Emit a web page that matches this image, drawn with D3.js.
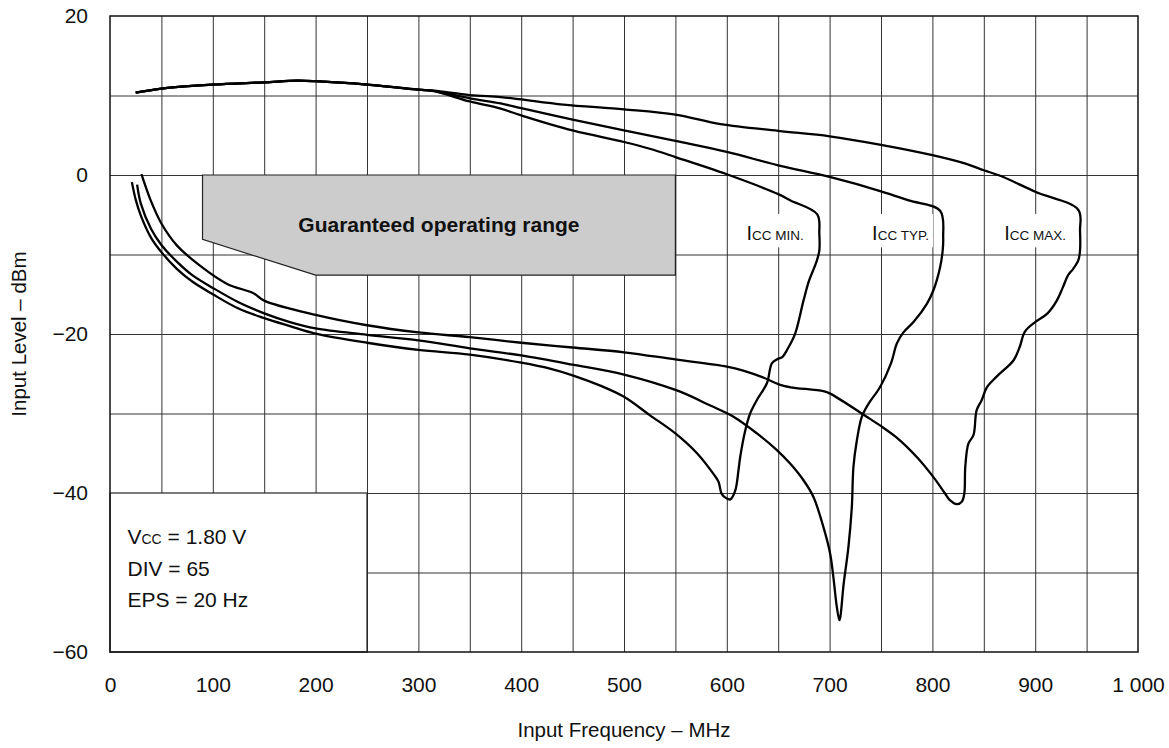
<!DOCTYPE html>
<html>
<head>
<meta charset="utf-8">
<script src="https://cdn.jsdelivr.net/npm/d3@7"></script>
<style>
body { margin: 0; background: #fff; }
svg { font-family: "Liberation Sans", Arial, Helvetica, sans-serif; }
</style>
</head>
<body>
<svg id="chart" width="1169" height="748"></svg>
<script>
// values: [frequency MHz, level dBm]
var freqTicks = [0, 100, 200, 300, 400, 500, 600, 700, 800, 900, 1000];
var levelTicks = [-60, -40, -20, 0, 20];
var freqGrid = [50, 100, 150, 200, 250, 300, 350, 400, 450, 500, 550, 600, 650, 700, 750, 800, 850, 900, 950];
var levelGrid = [-50, -40, -30, -20, -10, 0, 10];

var iccMin = [[25,10.35],[50,10.87],[100,11.37],[150,11.66],[182,11.87],[200,11.8],[250,11.37],[300,10.74],[315,10.55],
  [350,9.25],[380,8.35],[400,7.5],[450,5.6],[500,4.15],[525,3.3],[550,2.26],[600,0.09],[650,-2.4],[662,-3.2],[688,-4.95],
  [690,-7.4],[690,-9.5],[687,-11],[680,-13.3],[674.6,-15.8],[666.5,-19.95],[658.4,-22.05],[654,-22.9],[648.7,-23.2],
  [643.8,-23.7],[639,-26.2],[629.3,-28.3],[622.7,-30],[618,-32.1],[613,-35.5],[611.4,-37.1],[608.2,-39.7],[603.4,-40.8],
  [600,-40.7],[595,-40.1],[592,-38.6],[587,-37.6],[571,-35],[550,-32.5],[525,-30.2],[500,-27.9],[477,-26.5],[450,-25.2],
  [428,-24.35],[400,-23.6],[350,-22.6],[300,-22],[250,-21.1],[200,-19.95],[175,-19],[150,-18],[125,-16.8],[100,-15],
  [80,-13.4],[65,-11.8],[50,-9.7],[40,-7.9],[30,-5.1],[25,-3.1],[21.3,-0.9]];

var iccTyp = [[25,10.35],[50,10.87],[100,11.37],[150,11.66],[182,11.87],[200,11.8],[250,11.37],[300,10.74],[315,10.58],
  [350,9.65],[380,9.0],[400,8.4],[450,6.96],[500,5.62],[550,4.28],[600,2.9],[650,1.22],[700,-0.25],[750,-2.05],[777,-3.2],
  [807.5,-4.5],[810.5,-7.8],[810,-9.5],[807.5,-11.6],[801,-14.5],[794.6,-16.2],[781.6,-18.5],[771.8,-19.8],[765.4,-21.2],
  [759.7,-23.7],[749,-26.7],[738,-28.75],[731.4,-30.4],[726.5,-33.4],[723.2,-36.7],[721.6,-41.8],[718.3,-46.8],
  [713.7,-51.4],[709.6,-56],[707,-54.3],[703.7,-50.6],[700.5,-47.6],[694,-44.3],[684.3,-40.5],[674.6,-38.4],[661.6,-36.3],
  [648.7,-34.6],[629.3,-32.5],[606.5,-30.4],[584,-29],[551.5,-27.1],[500,-25.1],[450,-23.85],[400,-22.7],[350,-21.8],
  [300,-20.8],[250,-20.1],[200,-19.3],[175,-18.5],[150,-17.4],[125,-16],[100,-14.2],[80,-12.6],[65,-10.9],[50,-8.8],
  [40,-6.8],[30,-3.6],[26.4,-1.2]];

var iccMax = [[25,10.35],[50,10.87],[100,11.37],[150,11.66],[182,11.87],[200,11.8],[250,11.37],[300,10.74],[315,10.62],
  [350,10.05],[380,9.8],[400,9.5],[441,8.85],[500,8.26],[550,7.6],[594,6.4],[650,5.55],[700,4.87],[750,3.8],[800,2.5],
  [833,1.4],[850,0.6],[866,-0.1],[900,-2.1],[942,-4.4],[943.6,-7],[943.6,-9.5],[942,-10.7],[937,-11.8],[932,-12.6],
  [927,-14.1],[921,-15.8],[912,-17.4],[900,-18.5],[890,-19.7],[885,-21.6],[879,-23.3],[863,-25.3],[853,-26.7],[848,-28.3],
  [843,-29.6],[840,-32.7],[835,-33.8],[832,-36.7],[831,-40.1],[828.6,-41.1],[823.7,-41.4],[817,-40.9],[812,-40],[801,-38],
  [785,-35.5],[765,-33],[749,-31.5],[736,-30.4],[700.5,-27.5],[694,-27.2],[662,-26.7],[652,-26.4],[636,-25.5],[616,-24.6],
  [600,-24.1],[550,-23.2],[500,-22.3],[450,-21.7],[400,-21.1],[350,-20.4],[300,-19.8],[250,-18.9],[200,-17.6],[150,-15.8],
  [140,-14.9],[114,-13.7],[87.5,-11.4],[65,-8.85],[50,-6.1],[39,-3],[30.6,0.1]];

var guaranteedRange = [[90,0],[550,0],[550,-12.6],[200,-12.6],[90,-8.1]];

var curveLabels = [
  {name: "MIN.", freq: 647, level: -8.2},
  {name: "TYP.", freq: 769, level: -8.2},
  {name: "MAX.", freq: 900, level: -8.2}
];

var conditions = ["= 1.80 V", "DIV = 65", "EPS = 20 Hz"];

var svg = d3.select("#chart");
var margin = {top: 16, right: 31, bottom: 96, left: 110};
var width = 1169 - margin.left - margin.right;
var height = 748 - margin.top - margin.bottom;
var g = svg.append("g").attr("transform", "translate(" + margin.left + "," + margin.top + ")");

var x = d3.scaleLinear().domain([0, 1000]).range([0, width]);
var y = d3.scaleLinear().domain([-60, 20]).range([height, 0]);

// grid
var gx = g.append("g")
    .attr("transform", "translate(0," + height + ")")
    .call(d3.axisBottom(x).tickValues(freqGrid).tickSize(-height).tickFormat(""));
var gy = g.append("g")
    .call(d3.axisLeft(y).tickValues(levelGrid).tickSize(-width).tickFormat(""));
[gx, gy].forEach(function(a) {
  a.select(".domain").remove();
  a.selectAll("line").attr("stroke", "#333").attr("stroke-width", 1);
});

// conditions box, lower left
g.append("rect")
    .attr("x", x(0)).attr("y", y(-40))
    .attr("width", x(250) - x(0)).attr("height", y(-60) - y(-40))
    .attr("fill", "#fff").attr("stroke", "#222").attr("stroke-width", 1.2);

var cond = g.append("g").style("font-size", "21px").attr("fill", "#111");
var vcc = cond.append("text").attr("x", x(17)).attr("y", y(-46.4));
vcc.append("tspan").text("V");
vcc.append("tspan").style("font-size", "14px").text("CC");
vcc.append("tspan").text(" " + conditions[0]);
cond.append("text").attr("x", x(17)).attr("y", y(-50.4)).text(conditions[1]);
cond.append("text").attr("x", x(17)).attr("y", y(-54.4)).text(conditions[2]);

// guaranteed operating range
g.append("path")
    .datum(guaranteedRange)
    .attr("d", d3.line().x(function(d) { return x(d[0]); }).y(function(d) { return y(d[1]); }).curve(d3.curveLinearClosed))
    .attr("fill", "#cccccc").attr("stroke", "#222").attr("stroke-width", 1.2);
g.append("text")
    .attr("x", x(320)).attr("y", y(-7.2))
    .attr("text-anchor", "middle")
    .style("font-size", "21px").style("font-weight", "bold").attr("fill", "#111")
    .text("Guaranteed operating range");

// curves
var line = d3.line()
    .x(function(d) { return x(d[0]); })
    .y(function(d) { return y(d[1]); })
    .curve(d3.curveCatmullRom.alpha(0.5));

g.selectAll(".curve")
    .data([iccMin, iccTyp, iccMax])
    .enter().append("path")
      .attr("class", "curve")
      .attr("d", line)
      .attr("fill", "none")
      .attr("stroke", "#000")
      .attr("stroke-width", 2.3)
      .attr("stroke-linejoin", "round");

// Icc labels with white backing
var lab = g.selectAll(".icc")
    .data(curveLabels)
    .enter().append("g").attr("class", "icc");
lab.append("rect").attr("fill", "#fff");
var lt = lab.append("text")
    .attr("x", function(d) { return x(d.freq); })
    .attr("y", function(d) { return y(d.level); })
    .attr("text-anchor", "middle")
    .attr("fill", "#111")
    .style("font-size", "20px");
lt.append("tspan").text("I");
lt.append("tspan").style("font-size", "13.5px").text(function(d) { return "CC " + d.name; });
lab.each(function() {
  var b = d3.select(this).select("text").node().getBBox();
  d3.select(this).select("rect")
    .attr("x", b.x - 4).attr("y", y(-4.9))
    .attr("width", b.width + 8).attr("height", y(-9.1) - y(-4.9));
});

// frame
g.append("rect")
    .attr("width", width).attr("height", height)
    .attr("fill", "none").attr("stroke", "#111").attr("stroke-width", 1.5);

// axes labels
var ax = g.append("g")
    .attr("transform", "translate(0," + height + ")")
    .call(d3.axisBottom(x).tickValues(freqTicks).tickSize(0).tickPadding(25)
      .tickFormat(function(d) { return d === 1000 ? "1 000" : d; }));
var ay = g.append("g")
    .call(d3.axisLeft(y).tickValues(levelTicks).tickSize(0).tickPadding(22)
      .tickFormat(function(d) { return d < 0 ? "\u2212" + Math.abs(d) : d; }));
[ax, ay].forEach(function(a) {
  a.select(".domain").remove();
  a.selectAll("text").style("font-size", "21px").style("font-family", "'Liberation Sans', Arial, sans-serif").attr("fill", "#111");
});

g.append("text")
    .attr("x", width / 2).attr("y", height + 85)
    .attr("text-anchor", "middle")
    .style("font-size", "20.5px").attr("fill", "#111")
    .text("Input Frequency \u2013 MHz");

svg.append("text")
    .attr("transform", "translate(26," + (margin.top + height / 2) + ") rotate(-90)")
    .attr("text-anchor", "middle")
    .style("font-size", "20.5px").attr("fill", "#111")
    .text("Input Level \u2013 dBm");
</script>
</body>
</html>
